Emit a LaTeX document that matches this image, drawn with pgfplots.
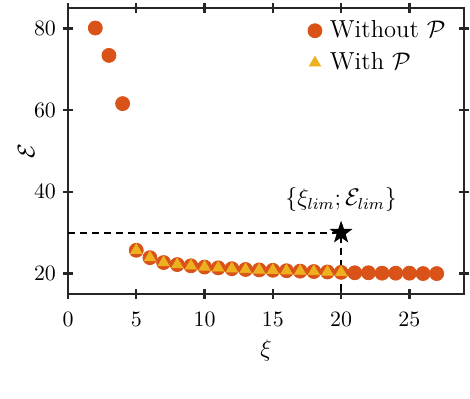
\documentclass[border=0pt]{standalone}
\usepackage{pgfplots}
\pgfplotsset{compat=1.18}
\definecolor{mred}{HTML}{D95319}
\definecolor{myel}{HTML}{EDB120}
\definecolor{axgray}{HTML}{262626}
% filled five-pointed star
\pgfdeclareplotmark{fstar}{%
  \pgfpathmoveto{\pgfpointpolar{90}{\pgfplotmarksize}}%
  \pgfpathlineto{\pgfpointpolar{126}{0.4\pgfplotmarksize}}%
  \pgfpathlineto{\pgfpointpolar{162}{\pgfplotmarksize}}%
  \pgfpathlineto{\pgfpointpolar{198}{0.4\pgfplotmarksize}}%
  \pgfpathlineto{\pgfpointpolar{234}{\pgfplotmarksize}}%
  \pgfpathlineto{\pgfpointpolar{270}{0.4\pgfplotmarksize}}%
  \pgfpathlineto{\pgfpointpolar{306}{\pgfplotmarksize}}%
  \pgfpathlineto{\pgfpointpolar{342}{0.4\pgfplotmarksize}}%
  \pgfpathlineto{\pgfpointpolar{18}{\pgfplotmarksize}}%
  \pgfpathlineto{\pgfpointpolar{54}{0.4\pgfplotmarksize}}%
  \pgfpathclose\pgfusepathqfill}
\begin{document}
\begin{tikzpicture}
\begin{axis}[name=ax, scale only axis, width=198pt, height=143pt,
  xmin=0, xmax=29, ymin=15, ymax=85,
  xtick={0,5,...,25}, ytick={20,40,60,80},
  tick align=center, major tick length=5pt,
  axis line style={axgray, line width=1.2pt},
  every tick/.style={axgray, line width=1.2pt},
  tick label style={font=\fontsize{11}{13}\selectfont},
  xticklabel style={yshift=-3pt},
  xlabel={$\xi$}, ylabel={$\mathcal{E}$},
  label style={font=\fontsize{13}{15}\selectfont},
  ylabel style={yshift=-7pt},
  legend style={draw=none, fill=none, at={(0.99,0.985)}, anchor=north east,
    font=\fontsize{12.3}{14}\selectfont, row sep=2pt,
    nodes={inner xsep=4pt}},
  legend cell align=left,
  clip=false]
\addplot[forget plot, black, line width=1pt, dash pattern=on 3.5pt off 2.5pt]
  coordinates {(0,30) (20,30) (20,15)};
\addplot[only marks, mark=*, mark size=3.5pt, mark options={fill=mred, draw=mred}]
  coordinates {(2,80.1) (3,73.4) (4,61.6) (5,25.7) (6,23.9) (7,22.7) (8,22.2)
  (9,21.9) (10,21.6) (11,21.4) (12,21.2) (13,21.0) (14,20.9) (15,20.8) (16,20.7)
  (17,20.6) (18,20.5) (19,20.4) (20,20.3) (21,20.2) (22,20.2) (23,20.1) (24,20.1)
  (25,20.1) (26,20.0) (27,20.0)};
\addlegendentry{Without $\mathcal{P}$}
\addplot[only marks, mark=triangle*, mark size=3.2pt, mark options={fill=myel, draw=myel}]
  coordinates {(5,25.7) (6,23.9) (7,22.7) (8,22.2) (9,21.9) (10,21.6) (11,21.4)
  (12,21.2) (13,21.0) (14,20.9) (15,20.8) (16,20.7) (17,20.6) (18,20.5) (19,20.4)
  (20,20.3)};
\addlegendentry{With $\mathcal{P}$}
\addplot[forget plot, only marks, mark=fstar, mark size=6pt, black]
  coordinates {(20,30)};
\node[font=\fontsize{12}{14}\selectfont] at (axis cs:20,30) [yshift=16.5pt]
  {$\{\xi_{lim};\mathcal{E}_{lim}\}$};
\end{axis}
\pgfresetboundingbox
\path ([xshift=-34pt,yshift=-52pt]ax.south west) rectangle ([xshift=3pt,yshift=4pt]ax.north east);
\end{tikzpicture}
\end{document}
